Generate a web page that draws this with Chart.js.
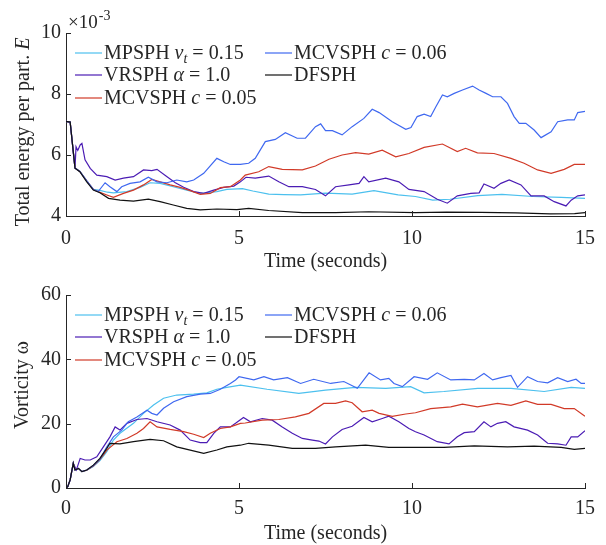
<!DOCTYPE html>
<html>
<head>
<meta charset="utf-8">
<script src="https://cdn.jsdelivr.net/npm/chart.js@4.4.0/dist/chart.umd.min.js"></script>
<style>
  html, body { margin: 0; padding: 0; background: #fff; }
  #wrap { position: relative; width: 606px; height: 545px; }
  canvas { position: absolute; left: 0; }
</style>
</head>
<body>
<div id="wrap">
  <canvas id="energyChart" width="606" height="272" style="top:0"></canvas>
  <canvas id="vortChart" width="606" height="273" style="top:272px"></canvas>
</div>
<script>
var SERIF = '"Liberation Serif", "Times New Roman", serif';
var INK = '#262626';

// series order: MPSPH, VRSPH, MCVSPH c=0.05, MCVSPH c=0.06, DFSPH
var colors = ['#4cc0ee', '#4b1cb4', '#d13a28', '#3f68f0', '#111111'];
var legendNames = [
  [['MPSPH ', 'r'], ['\u03bd', 'i'], ['t', 'sub'], [' = 0.15', 'r']],
  [['VRSPH ', 'r'], ['\u03b1', 'i'], [' = 1.0', 'r']],
  [['MCVSPH ', 'r'], ['c', 'i'], [' = 0.05', 'r']],
  [['MCVSPH ', 'r'], ['c', 'i'], [' = 0.06', 'r']],
  [['DFSPH', 'r']]
];

var timeTicks = [0, 5, 10, 15];
var energyTicks = [4, 6, 8, 10];   // x 10^-3
var vortTicks = [0, 20, 40, 60];

// ---- total energy per particle (x 10^-3) ----
var mpsphTimeE = [0, 0.12, 0.26, 0.4, 0.6, 0.79, 0.98, 1.2, 1.37, 1.76, 2.14, 2.43, 2.72, 3.1, 3.49, 3.88, 4.36, 4.65, 5.1, 5.4, 5.86, 6.3, 6.78, 7.5, 8.27, 8.9, 9.6, 10.1, 10.6, 11.1, 11.9, 12.6, 13.5, 14.31, 15.0];
var mpsphEnergy = [7.1, 7.08, 5.57, 5.47, 5.15, 4.87, 4.84, 4.78, 4.76, 4.8, 4.94, 5.09, 5.07, 4.96, 4.85, 4.74, 4.8, 4.87, 4.9, 4.82, 4.72, 4.7, 4.69, 4.75, 4.72, 4.83, 4.69, 4.64, 4.52, 4.55, 4.67, 4.71, 4.64, 4.61, 4.58];

var vrsphTimeE = [0, 0.12, 0.26, 0.29, 0.34, 0.41, 0.46, 0.55, 0.7, 0.89, 1.18, 1.42, 1.66, 1.95, 2.24, 2.48, 2.63, 2.92, 3.16, 3.4, 3.69, 3.98, 4.27, 4.56, 4.85, 5.04, 5.2, 5.47, 5.86, 6.15, 6.44, 6.83, 7.21, 7.5, 7.79, 8.18, 8.47, 8.61, 8.75, 9.24, 9.62, 9.91, 10.35, 10.73, 11.02, 11.31, 11.7, 11.94, 12.08, 12.37, 12.57, 12.81, 13.15, 13.44, 13.82, 14.11, 14.45, 14.6, 14.79, 15.0];
var vrsphEnergy = [7.1, 7.08, 5.57, 6.27, 6.15, 6.33, 6.38, 5.84, 5.56, 5.34, 5.29, 5.18, 5.24, 5.29, 5.51, 5.49, 5.53, 5.29, 5.09, 4.94, 4.8, 4.74, 4.85, 4.94, 4.98, 5.12, 5.27, 5.24, 5.31, 5.12, 4.96, 4.96, 4.87, 4.66, 4.96, 5.02, 5.07, 5.29, 5.12, 5.24, 5.12, 4.87, 4.8, 4.55, 4.42, 4.66, 4.74, 4.76, 5.05, 4.91, 5.07, 5.18, 5.02, 4.66, 4.66, 4.47, 4.33, 4.52, 4.66, 4.69];

var mcv05TimeE = [0, 0.12, 0.26, 0.4, 0.6, 0.79, 0.93, 1.18, 1.37, 1.66, 1.95, 2.24, 2.48, 2.72, 3.01, 3.3, 3.59, 3.88, 4.17, 4.46, 4.75, 5.04, 5.18, 5.57, 5.86, 6.25, 6.83, 7.21, 7.6, 7.98, 8.37, 8.75, 9.14, 9.53, 9.91, 10.35, 10.88, 11.31, 11.55, 11.89, 12.37, 12.86, 13.24, 13.63, 14.02, 14.4, 14.69, 15.0];
var mcv05Energy = [7.1, 7.08, 5.57, 5.46, 5.15, 4.87, 4.8, 4.69, 4.61, 4.74, 4.85, 5.02, 5.2, 5.12, 5.02, 4.94, 4.83, 4.71, 4.74, 4.93, 4.96, 5.18, 5.34, 5.45, 5.62, 5.53, 5.51, 5.64, 5.86, 6.0, 6.08, 6.03, 6.16, 5.94, 6.05, 6.25, 6.36, 6.11, 6.22, 6.07, 6.05, 5.89, 5.73, 5.51, 5.4, 5.53, 5.69, 5.69];

var mcv06TimeE = [0, 0.12, 0.26, 0.4, 0.6, 0.79, 0.93, 1.13, 1.27, 1.47, 1.61, 1.85, 2.14, 2.38, 2.63, 2.92, 3.2, 3.49, 3.69, 3.98, 4.36, 4.56, 4.75, 5.04, 5.28, 5.47, 5.76, 6.05, 6.34, 6.68, 6.92, 7.21, 7.36, 7.5, 7.7, 7.98, 8.27, 8.61, 8.85, 9.05, 9.43, 9.82, 9.97, 10.15, 10.35, 10.54, 10.69, 10.88, 11.02, 11.22, 11.46, 11.75, 11.94, 12.14, 12.33, 12.57, 12.76, 12.95, 13.1, 13.29, 13.53, 13.73, 14.02, 14.21, 14.5, 14.69, 14.79, 15.0];
var mcv06Energy = [7.1, 7.08, 5.57, 5.46, 5.15, 4.87, 4.8, 5.09, 4.96, 4.8, 4.96, 5.07, 5.12, 5.27, 5.12, 5.09, 5.18, 5.12, 5.18, 5.4, 5.89, 5.78, 5.69, 5.69, 5.73, 5.89, 6.44, 6.51, 6.73, 6.55, 6.55, 6.93, 7.02, 6.8, 6.8, 6.66, 6.93, 7.2, 7.5, 7.39, 7.09, 6.84, 6.9, 7.26, 7.34, 7.26, 7.58, 7.97, 7.91, 8.02, 8.13, 8.26, 8.13, 8.02, 7.91, 7.91, 7.69, 7.26, 7.04, 7.04, 6.82, 6.57, 6.76, 7.09, 7.15, 7.15, 7.39, 7.43];

var dfsphTimeE = [0, 0.12, 0.26, 0.4, 0.6, 0.79, 0.98, 1.23, 1.56, 1.95, 2.38, 2.72, 3.1, 3.49, 3.88, 4.36, 4.94, 5.28, 5.86, 6.83, 7.79, 8.75, 10.1, 11.0, 12.0, 13.0, 14.0, 14.7, 15.0];
var dfsphEnergy = [7.1, 7.08, 5.57, 5.45, 5.12, 4.85, 4.76, 4.58, 4.52, 4.49, 4.55, 4.47, 4.36, 4.25, 4.2, 4.23, 4.21, 4.25, 4.18, 4.11, 4.11, 4.14, 4.11, 4.13, 4.12, 4.1, 4.07, 4.08, 4.11];

// ---- vorticity ----
var mpsphTimeW = [0, 0.05, 0.12, 0.21, 0.26, 0.36, 0.46, 0.6, 0.79, 0.98, 1.18, 1.37, 1.56, 1.95, 2.24, 2.53, 2.82, 3.2, 3.69, 4.07, 4.36, 4.65, 5.04, 5.81, 6.73, 7.5, 8.37, 9.24, 9.96, 10.35, 10.92, 11.9, 12.86, 13.82, 14.6, 15.0];
var mpsphVort = [0, 0.4, 2.5, 7.7, 5.6, 6.1, 5.1, 5.5, 6.7, 8.5, 11.3, 14.9, 17.0, 20.1, 23.2, 25.8, 27.9, 28.9, 29.2, 29.6, 30.7, 31.3, 32.0, 30.7, 29.4, 30.4, 31.3, 31.0, 31.5, 29.6, 30.0, 31.0, 31.0, 30.0, 31.3, 31.0];

var vrsphTimeW = [0, 0.05, 0.12, 0.21, 0.3, 0.41, 0.55, 0.7, 0.89, 1.08, 1.27, 1.42, 1.56, 1.76, 2.05, 2.34, 2.63, 3.01, 3.3, 3.59, 3.88, 4.07, 4.27, 4.46, 4.75, 4.9, 5.13, 5.33, 5.67, 5.96, 6.25, 6.54, 6.83, 7.12, 7.31, 7.5, 7.7, 7.98, 8.27, 8.61, 8.85, 9.14, 9.33, 9.62, 9.91, 10.1, 10.35, 10.73, 11.07, 11.31, 11.51, 11.8, 12.08, 12.28, 12.47, 12.71, 12.95, 13.34, 13.63, 13.92, 14.21, 14.45, 14.6, 14.79, 15.0];
var vrsphVort = [0, 0.4, 2.5, 7.7, 5.6, 9.2, 8.7, 8.7, 9.7, 12.8, 15.9, 19.0, 18.0, 20.1, 21.3, 21.6, 20.6, 19.6, 18.0, 14.9, 14.1, 14.1, 17.0, 19.0, 19.0, 20.1, 21.9, 20.6, 21.6, 21.1, 19.0, 17.0, 15.4, 14.9, 14.6, 13.7, 15.9, 18.2, 19.2, 21.9, 20.6, 21.6, 22.3, 20.6, 18.5, 17.5, 16.5, 14.4, 13.7, 15.9, 17.2, 17.5, 20.6, 19.0, 20.1, 20.6, 19.0, 18.0, 16.5, 13.9, 13.7, 13.3, 15.9, 15.9, 17.8];

var mcv05TimeW = [0, 0.05, 0.12, 0.21, 0.26, 0.36, 0.46, 0.6, 0.79, 0.98, 1.18, 1.47, 1.76, 2.05, 2.24, 2.43, 2.63, 3.01, 3.4, 3.69, 3.98, 4.17, 4.46, 4.75, 5.04, 5.18, 5.67, 6.15, 6.63, 7.02, 7.45, 7.79, 8.08, 8.27, 8.56, 8.85, 9.05, 9.43, 9.82, 10.1, 10.54, 11.12, 11.46, 11.89, 12.47, 12.86, 13.29, 13.63, 14.02, 14.4, 14.69, 15.0];
var mcv05Vort = [0, 0.4, 2.5, 7.7, 5.6, 6.1, 5.1, 5.5, 6.8, 8.8, 11.8, 14.4, 15.4, 17.0, 18.5, 20.6, 19.0, 18.2, 17.5, 16.7, 15.7, 17.0, 18.5, 19.0, 20.1, 20.2, 21.1, 21.3, 22.1, 23.2, 26.3, 26.3, 27.1, 26.5, 23.7, 24.2, 23.2, 22.3, 23.0, 23.4, 24.7, 25.2, 26.1, 25.2, 26.3, 25.7, 27.1, 26.0, 26.0, 24.7, 24.7, 22.3];

var mcv06TimeW = [0, 0.05, 0.12, 0.21, 0.26, 0.36, 0.46, 0.6, 0.79, 0.98, 1.18, 1.37, 1.61, 1.8, 2.05, 2.34, 2.48, 2.63, 2.82, 3.11, 3.49, 3.88, 4.17, 4.46, 4.75, 4.9, 5.0, 5.43, 5.72, 6.0, 6.4, 6.78, 7.16, 7.65, 8.03, 8.42, 8.76, 9.09, 9.33, 9.48, 9.72, 10.06, 10.45, 10.73, 11.12, 11.51, 11.8, 12.08, 12.33, 12.57, 12.86, 13.05, 13.34, 13.63, 13.92, 14.21, 14.5, 14.74, 14.89, 15.0];
var mcv06Vort = [0, 0.4, 2.5, 7.7, 5.6, 6.1, 5.1, 5.6, 7.0, 9.0, 12.8, 15.9, 18.0, 20.6, 22.1, 24.2, 23.2, 22.7, 24.8, 26.8, 28.4, 29.2, 29.4, 30.7, 32.5, 33.6, 34.6, 33.6, 34.6, 33.6, 34.3, 32.5, 33.8, 32.5, 33.1, 31.0, 35.8, 33.6, 34.1, 32.5, 31.5, 34.6, 33.8, 35.8, 33.6, 33.8, 33.6, 35.6, 33.6, 34.3, 35.0, 31.3, 34.6, 33.1, 32.7, 34.3, 33.1, 33.8, 32.5, 32.5];

var dfsphTimeW = [0, 0.05, 0.12, 0.21, 0.26, 0.36, 0.46, 0.6, 0.79, 0.98, 1.18, 1.27, 1.56, 1.95, 2.43, 2.82, 3.2, 3.59, 3.98, 4.36, 4.65, 5.04, 5.28, 5.86, 6.54, 7.21, 7.79, 8.66, 9.33, 10.1, 10.92, 11.8, 12.76, 13.53, 14.31, 14.69, 15.0];
var dfsphVort = [0, 0.4, 2.5, 7.7, 5.6, 6.1, 5.1, 5.6, 7.1, 9.2, 12.3, 13.9, 13.7, 14.4, 15.1, 14.7, 12.8, 11.8, 10.8, 11.8, 12.8, 13.3, 13.9, 13.3, 12.3, 12.3, 12.8, 13.3, 12.6, 12.6, 12.6, 13.1, 12.8, 13.0, 12.6, 12.0, 12.3];

function toPoints(ts, vs) {
  return ts.map(function (t, i) { return { x: t, y: vs[i] }; });
}

function drawRich(ctx, parts, x, y, size) {
  parts.forEach(function (p) {
    var fs = p[1] === 'sub' ? Math.round(size * 0.7) : size;
    ctx.font = (p[1] === 'r' ? '' : 'italic ') + fs + 'px ' + SERIF;
    ctx.fillText(p[0], x, p[1] === 'sub' ? y + size * 0.28 : y);
    x += ctx.measureText(p[0]).width;
  });
  return x;
}

function richWidth(ctx, parts, size) {
  var w = 0;
  parts.forEach(function (p) {
    var fs = p[1] === 'sub' ? Math.round(size * 0.7) : size;
    ctx.font = (p[1] === 'r' ? '' : 'italic ') + fs + 'px ' + SERIF;
    w += ctx.measureText(p[0]).width;
  });
  return w;
}

// inward ticks, two-column legend, rich y label, exponent note
var figPlugin = {
  id: 'fig',
  afterDraw: function (chart, args, opts) {
    var ctx = chart.ctx, area = chart.chartArea;
    var xs = chart.scales.x, ys = chart.scales.y;
    ctx.save();
    ctx.strokeStyle = INK;
    ctx.lineWidth = 1;
    ctx.beginPath();
    xs.ticks.forEach(function (tk) {
      var px = Math.round(xs.getPixelForValue(tk.value)) + 0.5;
      ctx.moveTo(px, area.bottom);
      ctx.lineTo(px, area.bottom - 5);
    });
    ys.ticks.forEach(function (tk) {
      var py = Math.round(ys.getPixelForValue(tk.value)) + 0.5;
      ctx.moveTo(area.left, py);
      ctx.lineTo(area.left + 5, py);
    });
    ctx.stroke();

    ctx.textBaseline = 'middle';
    ctx.textAlign = 'left';
    ctx.fillStyle = INK;
    chart.data.datasets.forEach(function (ds, i) {
      var col = Math.floor(i / 3), row = i % 3;
      var x0 = [75, 265][col];
      var y0 = area.top + [20, 42, 65][row];
      ctx.strokeStyle = ds.borderColor;
      ctx.lineWidth = 1.2;
      ctx.beginPath();
      ctx.moveTo(x0, y0);
      ctx.lineTo(x0 + 27, y0);
      ctx.stroke();
      drawRich(ctx, legendNames[i], x0 + 29, y0 + 1, 20);
    });

    ctx.translate(opts.titleX, opts.titleY);
    ctx.rotate(-Math.PI / 2);
    var w = richWidth(ctx, opts.yTitle, 20);
    drawRich(ctx, opts.yTitle, -w / 2, 0, 20);
    ctx.setTransform(1, 0, 0, 1, 0, 0);

    if (opts.exponent) {
      ctx.textBaseline = 'alphabetic';
      ctx.font = '19px ' + SERIF;
      ctx.fillText('\u00d710', 68, 28);
      var ex = 68 + ctx.measureText('\u00d710').width;
      ctx.font = '14px ' + SERIF;
      ctx.fillText('-3', ex + 1, 20);
    }
    ctx.restore();
  }
};

function makeChart(id, seriesT, seriesV, yMin, yMax, yTicks, padTop, xTickPad, xTitlePad, plugOpts) {
  var datasets = seriesT.map(function (ts, i) {
    return {
      data: toPoints(ts, seriesV[i]),
      borderColor: colors[i],
      borderWidth: 1.2,
      pointRadius: 0,
      tension: 0,
      order: 5 - i
    };
  });
  var font = { family: SERIF, size: 20 };
  var canvasH = document.getElementById(id).height;
  return new Chart(document.getElementById(id), {
    type: 'line',
    data: { datasets: datasets },
    options: {
      responsive: false,
      animation: false,
      layout: { padding: { top: padTop, right: 21, left: 0, bottom: 0 } },
      plugins: { legend: { display: false }, tooltip: { enabled: false }, fig: plugOpts },
      scales: {
        x: {
          type: 'linear', min: 0, max: 15,
          afterBuildTicks: function (s) { s.ticks = timeTicks.map(function (v) { return { value: v }; }); },
          ticks: { color: INK, font: font, padding: xTickPad, maxRotation: 0 },
          grid: { display: true, drawOnChartArea: false, drawTicks: false },
          border: { display: true, color: INK, width: 1 },
          title: { display: true, text: 'Time (seconds)', color: INK, font: { family: SERIF, size: 20, lineHeight: 1 }, padding: { top: 0, bottom: xTitlePad } },
          afterFit: function (s) { s.height = canvasH - 216; }
        },
        y: {
          min: yMin, max: yMax,
          afterBuildTicks: function (s) { s.ticks = yTicks.map(function (v) { return { value: v }; }); },
          ticks: { color: INK, font: font, padding: 5 },
          grid: { display: true, drawOnChartArea: false, drawTicks: false },
          border: { display: true, color: INK, width: 1 },
          afterFit: function (s) { s.width = 66; }
        }
      }
    },
    plugins: [figPlugin]
  });
}

makeChart('energyChart',
  [mpsphTimeE, vrsphTimeE, mcv05TimeE, mcv06TimeE, dfsphTimeE],
  [mpsphEnergy, vrsphEnergy, mcv05Energy, mcv06Energy, dfsphEnergy],
  4, 10, energyTicks, 33, 11, 0,
  { yTitle: [['Total energy per part. ', 'r'], ['E', 'i']], titleX: 24, titleY: 132, exponent: true });

makeChart('vortChart',
  [mpsphTimeW, vrsphTimeW, mcv05TimeW, mcv06TimeW, dfsphTimeW],
  [mpsphVort, vrsphVort, mcv05Vort, mcv06Vort, dfsphVort],
  0, 60, vortTicks, 23, 9, 1,
  { yTitle: [['Vorticity \u03c9', 'r']], titleX: 23, titleY: 113, exponent: false });
</script>
</body>
</html>
